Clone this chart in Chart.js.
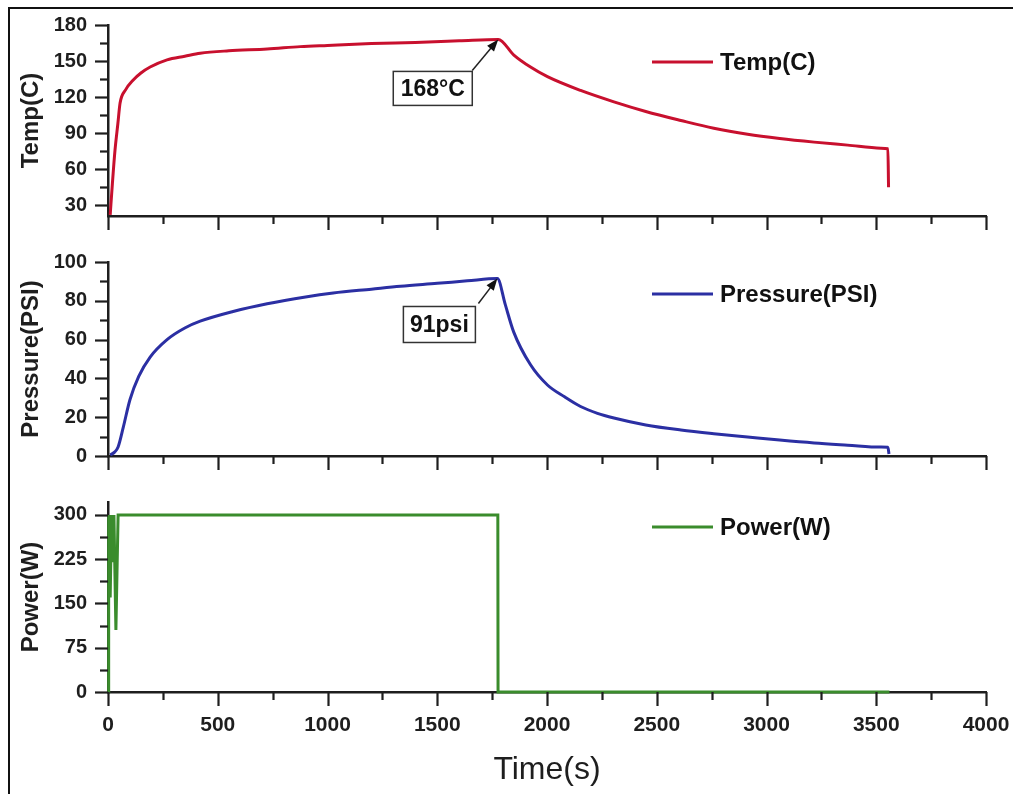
<!DOCTYPE html>
<html>
<head>
<meta charset="utf-8">
<title>Temp / Pressure / Power vs Time</title>
<script src="https://cdn.jsdelivr.net/npm/chart.js@4.4.1/dist/chart.umd.min.js"></script>
<style>
  body { margin: 0; background: #fff; }
  #wrap { position: relative; width: 1013px; height: 794px; overflow: hidden; }
  #frame { position: absolute; left: 8px; top: 7px; right: -4px; bottom: -4px;
           border-left: 2px solid #111; border-top: 2px solid #111; }
  canvas { position: absolute; left: 0; }
</style>
</head>
<body>
<div id="wrap">
  <div id="frame"></div>
  <canvas id="tempChart" width="1013" height="245" style="top:0px"></canvas>
  <canvas id="pressChart" width="1013" height="230" style="top:245px"></canvas>
  <canvas id="powerChart" width="1013" height="319" style="top:475px"></canvas>
</div>
<script>
// --- data ---
var tempTime  = [10, 20, 32, 45, 55, 80, 114, 150, 192, 269, 350, 420, 550, 725, 876, 1000, 1200, 1400, 1600, 1778,
                 1849, 1925, 2002, 2153, 2305, 2450, 2610, 2760, 2914, 3060, 3217, 3370, 3521, 3553, 3556];
var tempValue = [22, 48, 76, 98, 115, 126, 134, 140, 145, 151, 154, 156.5, 158.5, 160, 162, 163, 164.5, 165.5, 166.8, 168,
                 155, 145, 137, 125.5, 116, 108, 100.5, 94, 89, 85.5, 82.5, 80, 77.5, 77, 45];

var pressTime  = [10, 30, 46, 70, 100, 140, 192, 269, 350, 420, 570, 725, 900, 1026, 1200, 1332, 1500, 1637, 1774,
                  1810, 1848, 1925, 2002, 2080, 2153, 2230, 2305, 2450, 2610, 2760, 2914, 3060, 3217, 3370, 3521, 3553, 3558];
var pressValue = [0.5, 2, 4.6, 15, 29, 41, 51, 60, 66, 69.5, 74.5, 78.5, 82, 84, 86, 87.5, 89, 90.3, 91.5,
                  78, 64, 47, 36.6, 30.5, 25.5, 22, 19.6, 16, 13.4, 11.5, 9.8, 8.2, 6.7, 5.6, 4.6, 4.5, 1];

var powerTime  = [0, 3, 10, 16, 22, 27, 36, 46, 1776, 1777, 3560];
var powerValue = [0, 300, 160, 300, 220, 300, 105, 300, 300, 0, 0];

var timeRange  = [0, 4000];
var timeTicks  = [0, 500, 1000, 1500, 2000, 2500, 3000, 3500, 4000];
var tempRange  = [21, 180];
var tempTicks  = [30, 60, 90, 120, 150, 180];
var pressRange = [0, 100];
var pressTicks = [0, 20, 40, 60, 80, 100];
var powerRange = [0, 322];
var powerTicks = [0, 75, 150, 225, 300];

var tempPeak  = [1778, 168, '168°C'];
var pressPeak = [1774, 91.5, '91psi'];

var AXIS = '#1e1e1e';
var FONT = "'Liberation Sans', Arial, Helvetica, sans-serif";
Chart.defaults.font.family = FONT;
Chart.defaults.color = '#1e1e1e';

function toPoints(xs, ys) {
  return xs.map(function (x, i) { return { x: x, y: ys[i] }; });
}

function fixedTicks(vals) {
  return function (scale) {
    scale.ticks = vals.map(function (v) { return { value: v }; });
  };
}

// tick marks, major and minor, pointing outward
var tickMarks = {
  id: 'tickMarks',
  afterDatasetsDraw: function (chart, args, opts) {
    var ctx = chart.ctx;
    ctx.save();
    ctx.strokeStyle = AXIS;
    ctx.lineWidth = 2.2;
    ['x', 'y'].forEach(function (id) {
      var s = chart.scales[id];
      var major = s.ticks.map(function (t) { return t.value; });
      var marks = [];
      major.forEach(function (v, i) {
        marks.push([v, true]);
        if (i < major.length - 1) marks.push([(v + major[i + 1]) / 2, false]);
      });
      // minor mark below the first major if it fits
      var step = major[1] - major[0];
      if (major[0] - step / 2 >= s.min) marks.push([major[0] - step / 2, false]);
      marks.forEach(function (m) {
        var p = Math.round(s.getPixelForValue(m[0])) + 0.5;
        ctx.beginPath();
        if (id === 'x') {
          ctx.moveTo(p, s.top);
          ctx.lineTo(p, s.top + (m[1] ? 14 : 8));
        } else {
          ctx.moveTo(s.right, p);
          ctx.lineTo(s.right - (m[1] ? 13 : 8), p);
        }
        ctx.stroke();
      });
    });
    ctx.restore();
  }
};

// one-line legend inside the plot
var sideLegend = {
  id: 'sideLegend',
  afterDraw: function (chart, args, opts) {
    var ctx = chart.ctx;
    var ds = chart.data.datasets[0];
    ctx.save();
    ctx.strokeStyle = ds.borderColor;
    ctx.lineWidth = 3;
    ctx.beginPath();
    ctx.moveTo(opts.x, opts.y);
    ctx.lineTo(opts.x + 61, opts.y);
    ctx.stroke();
    ctx.fillStyle = '#111';
    ctx.font = 'bold 24px ' + FONT;
    ctx.textBaseline = 'middle';
    ctx.fillText(ds.label, opts.x + 68, opts.y + 1);
    ctx.restore();
  }
};

// boxed value label with an arrow to the peak
var peakNote = {
  id: 'peakNote',
  afterDraw: function (chart, args, opts) {
    if (!opts.peak) return;
    var ctx = chart.ctx;
    var tx = chart.scales.x.getPixelForValue(opts.peak[0]);
    var ty = chart.scales.y.getPixelForValue(opts.peak[1]);
    var bx = tx + opts.box[0], by = ty + opts.box[1], bw = opts.box[2], bh = opts.box[3];
    ctx.save();
    ctx.fillStyle = '#fff';
    ctx.fillRect(bx, by, bw, bh);
    ctx.strokeStyle = '#333';
    ctx.lineWidth = 1.5;
    ctx.strokeRect(bx, by, bw, bh);
    ctx.fillStyle = '#111';
    ctx.font = 'bold 23px ' + FONT;
    ctx.textAlign = 'center';
    ctx.textBaseline = 'middle';
    ctx.fillText(opts.peak[2], bx + bw / 2, by + bh / 2 + 1);
    // arrow
    var ax = tx + opts.tail[0], ay = ty + opts.tail[1];
    var ang = Math.atan2(ty - ay, tx - ax);
    ctx.strokeStyle = '#222';
    ctx.lineWidth = 1.5;
    ctx.beginPath();
    ctx.moveTo(ax, ay);
    ctx.lineTo(tx - 8 * Math.cos(ang), ty - 8 * Math.sin(ang));
    ctx.stroke();
    ctx.fillStyle = '#111';
    ctx.beginPath();
    ctx.moveTo(tx, ty);
    ctx.lineTo(tx - 12 * Math.cos(ang) + 4.5 * Math.sin(ang), ty - 12 * Math.sin(ang) - 4.5 * Math.cos(ang));
    ctx.lineTo(tx - 12 * Math.cos(ang) - 4.5 * Math.sin(ang), ty - 12 * Math.sin(ang) + 4.5 * Math.cos(ang));
    ctx.closePath();
    ctx.fill();
    ctx.restore();
  }
};

function makePanel(canvasId, opt) {
  var ctx = document.getElementById(canvasId).getContext('2d');
  return new Chart(ctx, {
    type: 'line',
    data: {
      datasets: [{
        label: opt.label,
        data: toPoints(opt.xs, opt.ys),
        borderColor: opt.color,
        borderWidth: 3,
        pointRadius: 0,
        fill: false,
        clip: false,
        tension: opt.smooth ? 0.25 : 0,
        cubicInterpolationMode: opt.smooth ? 'monotone' : 'default'
      }]
    },
    options: {
      responsive: false,
      animation: false,
      events: [],
      layout: { padding: { top: opt.padTop, right: 27, left: 0, bottom: 0 } },
      plugins: {
        legend: { display: false },
        tooltip: { enabled: false },
        tickMarks: {},
        sideLegend: { x: 652, y: opt.legendY },
        peakNote: opt.note || {}
      },
      scales: {
        x: {
          type: 'linear',
          bounds: 'data',
          min: timeRange[0],
          max: timeRange[1],
          afterBuildTicks: fixedTicks(timeTicks),
          grid: { display: false, drawTicks: false },
          border: { display: true, color: AXIS, width: 2.5 },
          ticks: {
            display: opt.showX,
            maxRotation: 0,
            autoSkip: false,
            padding: 21,
            color: '#1e1e1e',
            font: { size: 21, weight: 'bold' },
            callback: function (v) { return String(v); }
          },
          title: {
            display: opt.showX,
            text: 'Time(s)',
            color: '#1e1e1e',
            font: { size: 32, weight: 'normal' },
            padding: { top: 0, bottom: 5 }
          },
          afterFit: function (scale) {
            scale.height = opt.xHeight;
            scale.paddingLeft = 0;
            scale.paddingRight = 0;
          }
        },
        y: {
          type: 'linear',
          bounds: 'data',
          min: opt.yRange[0],
          max: opt.yRange[1],
          afterBuildTicks: fixedTicks(opt.yTicks),
          grid: { display: false, drawTicks: false },
          border: { display: true, color: AXIS, width: 2.5 },
          ticks: {
            autoSkip: false,
            padding: 21,
            color: '#1e1e1e',
            font: { size: 20, weight: 'bold' }
          },
          title: {
            display: true,
            text: opt.yTitle,
            color: '#1e1e1e',
            font: { size: 24, weight: 'bold' },
            padding: { top: 17, bottom: 0 }
          },
          afterFit: function (scale) {
            scale.width = 108;
            scale.paddingTop = 0;
            scale.paddingBottom = 0;
          }
        }
      }
    },
    plugins: [tickMarks, sideLegend, peakNote]
  });
}

makePanel('tempChart', {
  label: 'Temp(C)', yTitle: 'Temp(C)', color: '#c8102e',
  xs: tempTime, ys: tempValue, smooth: true,
  yRange: tempRange, yTicks: tempTicks, padTop: 25, xHeight: 29, showX: false, legendY: 62,
  note: { peak: tempPeak, box: [-105, 32, 79, 34], tail: [-26, 31] }
});

makePanel('pressChart', {
  label: 'Pressure(PSI)', yTitle: 'Pressure(PSI)', color: '#2b2fa3',
  xs: pressTime, ys: pressValue, smooth: true,
  yRange: pressRange, yTicks: pressTicks, padTop: 17, xHeight: 19, showX: false, legendY: 49,
  note: { peak: pressPeak, box: [-94, 28, 72, 36], tail: [-19, 25] }
});

makePanel('powerChart', {
  label: 'Power(W)', yTitle: 'Power(W)', color: '#3a8c2c',
  xs: powerTime, ys: powerValue, smooth: false,
  yRange: powerRange, yTicks: powerTicks, padTop: 27, xHeight: 102, showX: true, legendY: 52
});
</script>
</body>
</html>
